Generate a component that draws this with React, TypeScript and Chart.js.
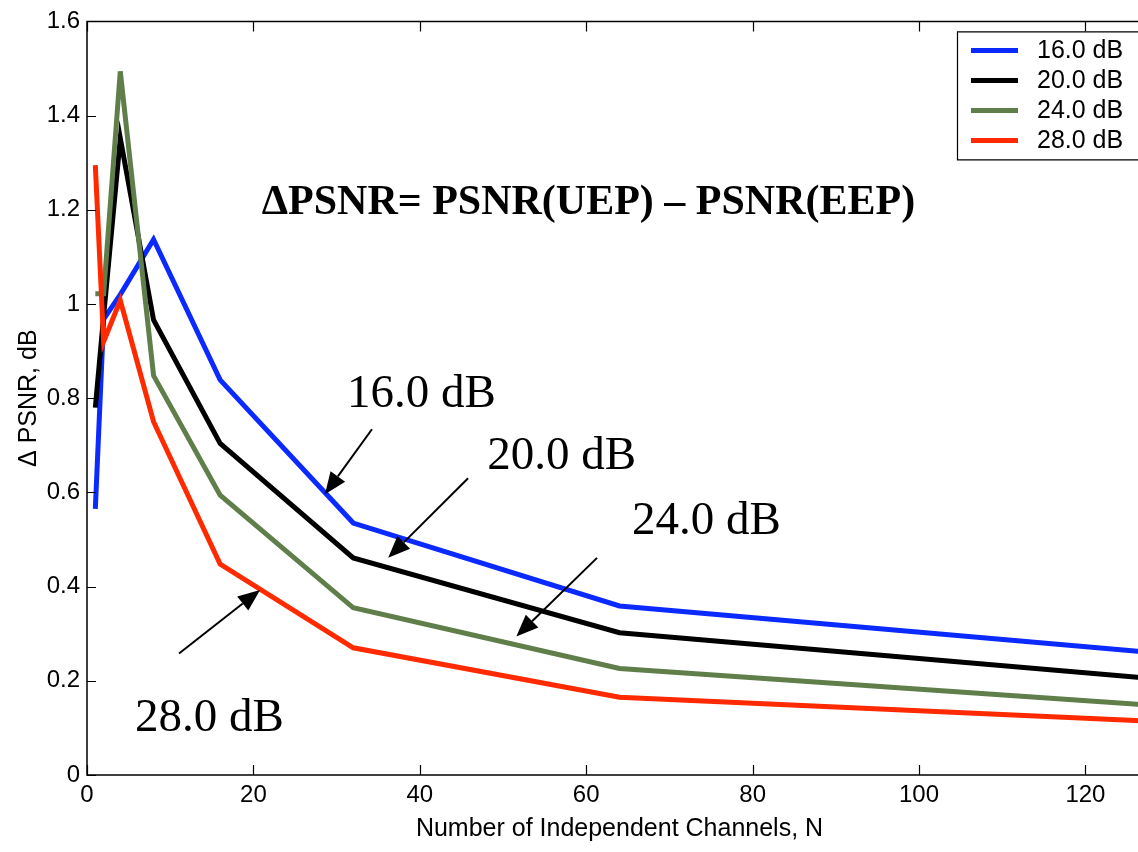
import React, { useEffect, useRef } from 'react';
import { Chart, registerables } from 'chart.js';

Chart.register(...registerables);

// ---- data ----
const channels = [1, 2, 4, 8, 16, 32, 64, 128];
const snr16 = [0.565, 0.968, 1.02, 1.137, 0.839, 0.535, 0.359, 0.26];
const snr20 = [0.78, 0.975, 1.352, 0.966, 0.704, 0.461, 0.302, 0.205];
const snr24 = [1.022, 1.022, 1.494, 0.848, 0.594, 0.355, 0.226, 0.148];
const snr28 = [1.295, 0.92, 1.008, 0.75, 0.448, 0.27, 0.165, 0.114];
const seriesLabels = ['16.0 dB', '20.0 dB', '24.0 dB', '28.0 dB'];
const seriesColors = ['#0a2aff', '#000000', '#5f7e4a', '#ff2a00'];

const xMin = 0;
const xMax = 128;
const xStep = 20;
const yMin = 0;
const yMax = 1.6;
const yStep = 0.2;
const xTitle = 'Number of Independent Channels, N';
const yTitle = '\u0394 PSNR, dB';

// annotations (data coordinates)
const formulaText = '\u0394PSNR= PSNR(UEP) \u2013 PSNR(EEP)';
const formulaAt = [21.0, 1.192];
const calloutLabels = ['16.0 dB', '20.0 dB', '24.0 dB', '28.0 dB'];
const calloutTextAt = [
  [31.25, 0.782],
  [48.1, 0.649],
  [65.5, 0.512],
  [5.77, 0.093],
];
const arrowTail = [
  [34.25, 0.734],
  [45.8, 0.63],
  [61.3, 0.461],
  [11.06, 0.258],
];
const arrowTip = [
  [28.6, 0.596],
  [36.2, 0.461],
  [51.6, 0.294],
  [20.8, 0.393],
];

const SANS = '"Liberation Sans", Arial, Helvetica, sans-serif';
const SERIF = '"Liberation Serif", "Times New Roman", Times, serif';

const series = [snr16, snr20, snr24, snr28];

const framePlugin = {
  id: 'framePlugin',
  afterDatasetsDraw(chart: any) {
    const { ctx } = chart;
    const xs = chart.scales.x;
    const ys = chart.scales.y;

    ctx.save();
    ctx.fillStyle = '#000';
    ctx.textBaseline = 'alphabetic';
    ctx.textAlign = 'left';
    ctx.font = `bold 42px ${SERIF}`;
    ctx.fillText(formulaText, xs.getPixelForValue(formulaAt[0]), ys.getPixelForValue(formulaAt[1]));
    ctx.font = `47px ${SERIF}`;
    calloutLabels.forEach((t, i) => {
      ctx.fillText(t, xs.getPixelForValue(calloutTextAt[i][0]), ys.getPixelForValue(calloutTextAt[i][1]));
    });
    ctx.strokeStyle = '#000';
    ctx.lineWidth = 2;
    const headLen = 22;
    const headHalf = 9;
    arrowTail.forEach((tail, i) => {
      const x0 = xs.getPixelForValue(tail[0]);
      const y0 = ys.getPixelForValue(tail[1]);
      const x1 = xs.getPixelForValue(arrowTip[i][0]);
      const y1 = ys.getPixelForValue(arrowTip[i][1]);
      const dx = x1 - x0;
      const dy = y1 - y0;
      const len = Math.hypot(dx, dy);
      const ux = dx / len;
      const uy = dy / len;
      const bx = x1 - ux * headLen;
      const by = y1 - uy * headLen;
      ctx.beginPath();
      ctx.moveTo(x0, y0);
      ctx.lineTo(bx, by);
      ctx.stroke();
      ctx.beginPath();
      ctx.moveTo(x1, y1);
      ctx.lineTo(bx - uy * headHalf, by + ux * headHalf);
      ctx.lineTo(bx + uy * headHalf, by - ux * headHalf);
      ctx.closePath();
      ctx.fill();
    });
    ctx.restore();
  },
  afterDraw(chart: any) {
    const { ctx, chartArea } = chart;
    const xs = chart.scales.x;
    const ys = chart.scales.y;
    const { left, right, top, bottom } = chartArea;
    ctx.save();
    ctx.strokeStyle = '#000';
    ctx.lineWidth = 1.5;
    ctx.beginPath();
    ctx.moveTo(right + 20, top);
    ctx.lineTo(left, top);
    ctx.lineTo(left, bottom);
    ctx.lineTo(right + 20, bottom);
    ctx.stroke();
    ctx.lineWidth = 1.2;
    ctx.beginPath();
    xs.ticks.forEach((t: any) => {
      const px = Math.round(xs.getPixelForValue(t.value)) + 0.5;
      ctx.moveTo(px, bottom);
      ctx.lineTo(px, bottom - 10);
      ctx.moveTo(px, top);
      ctx.lineTo(px, top + 10);
    });
    ys.ticks.forEach((t: any) => {
      const py = Math.round(ys.getPixelForValue(t.value)) + 0.5;
      ctx.moveTo(left, py);
      ctx.lineTo(left + 9, py);
    });
    ctx.stroke();

    // legend (its right edge runs past the visible window)
    const bx0 = right - 195;
    const by0 = top + 10;
    const bh = 128;
    ctx.fillStyle = '#fff';
    ctx.fillRect(bx0, by0, 400, bh);
    ctx.strokeStyle = '#000';
    ctx.lineWidth = 1.2;
    ctx.beginPath();
    ctx.moveTo(bx0 + 400, by0 + 0.5);
    ctx.lineTo(bx0 + 0.5, by0 + 0.5);
    ctx.lineTo(bx0 + 0.5, by0 + bh + 0.5);
    ctx.lineTo(bx0 + 400, by0 + bh + 0.5);
    ctx.stroke();
    ctx.font = `25px ${SANS}`;
    ctx.textBaseline = 'middle';
    ctx.textAlign = 'left';
    chart.data.datasets.forEach((ds: any, i: number) => {
      const cy = by0 + 19 + i * 30;
      ctx.strokeStyle = ds.borderColor;
      ctx.lineWidth = 5;
      ctx.beginPath();
      ctx.moveTo(bx0 + 14, cy);
      ctx.lineTo(bx0 + 61, cy);
      ctx.stroke();
      ctx.fillStyle = '#000';
      ctx.fillText(ds.label, bx0 + 80, cy + 1);
    });
    ctx.restore();
  },
};

export default function App() {
  const ref = useRef<HTMLCanvasElement>(null);
  useEffect(() => {
    const datasets = series.map((vals, i) => ({
      label: seriesLabels[i],
      data: channels.map((n, j) => ({ x: n, y: vals[j] })),
      borderColor: seriesColors[i],
      backgroundColor: seriesColors[i],
      borderWidth: 5,
      pointRadius: 0,
      tension: 0,
      fill: false,
      order: series.length - 1 - i,
      borderJoinStyle: 'miter' as const,
    }));
    const chart = new Chart(ref.current!, {
      type: 'line',
      data: { datasets },
      options: {
        animation: false,
        responsive: true,
        maintainAspectRatio: false,
        layout: { padding: { top: 18, left: 0, right: 8, bottom: 0 } },
        plugins: { legend: { display: false }, tooltip: { enabled: false } },
        scales: {
          x: {
            type: 'linear',
            min: xMin,
            max: xMax,
            grid: { display: false, drawTicks: false },
            border: { display: false },
            ticks: {
              stepSize: xStep,
              includeBounds: false,
              padding: 6,
              color: '#000',
              font: { family: SANS, size: 24 },
              maxRotation: 0,
            },
            title: {
              display: true,
              text: xTitle,
              color: '#000',
              font: { family: SANS, size: 25 },
              padding: { top: 0, bottom: 8 },
            },
            afterFit: (s: any) => {
              s.height = 77;
            },
          },
          y: {
            type: 'linear',
            min: yMin,
            max: yMax,
            grid: { display: false, drawTicks: false },
            border: { display: false },
            ticks: {
              stepSize: yStep,
              padding: 7,
              color: '#000',
              font: { family: SANS, size: 24 },
              callback: (v: any) => String(Number(Number(v).toFixed(1))),
            },
            title: {
              display: true,
              text: yTitle,
              color: '#000',
              font: { family: SANS, size: 25 },
              padding: { top: 14, bottom: 0 },
            },
            afterFit: (s: any) => {
              s.width = 87;
            },
          },
        },
      },
      plugins: [framePlugin],
    });
    return () => chart.destroy();
  }, []);
  return (
    <div
      style={{
        position: 'fixed',
        left: 0,
        top: 0,
        width: 1138,
        height: 852,
        overflow: 'hidden',
        background: '#fff',
      }}
    >
      <div style={{ position: 'relative', width: 1160, height: 852 }}>
        <canvas ref={ref} />
      </div>
    </div>
  );
}
